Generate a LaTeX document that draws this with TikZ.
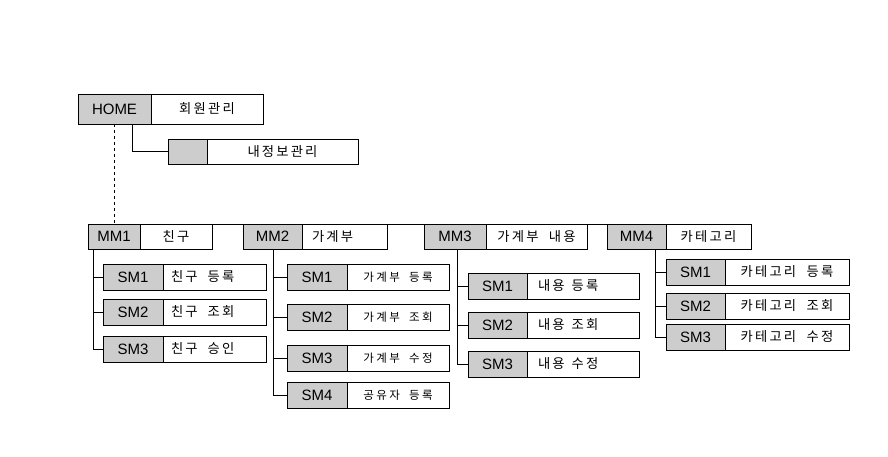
\documentclass[tikz,border=0pt]{standalone}
\usepackage{fontspec}
\setmainfont{Liberation Sans}
\newfontfamily\kr[WordSpace=3.5]{Noto Sans CJK KR}
\definecolor{cellgray}{RGB}{205,205,205}
\newcount\hgc
\hgc="AC00
\loop \XeTeXcharclass\hgc=7 \advance\hgc by 1 \ifnum\hgc<"D7A4 \repeat
\newdimen\hgk \hgk=2pt
\XeTeXinterchartoks 7 7 = {\kern\hgk}
\XeTeXinterchartokenstate=1
\newcommand\krmain{\kr\fontsize{13.3}{16}\selectfont\hgk=2.2pt\relax}
\newcommand\krsmall{\kr\fontsize{11.5}{14}\selectfont\hgk=2.5pt\relax}
\newcommand\spwide{\spaceskip=10pt\relax}
\newcommand\spmid{\spaceskip=7pt\relax}
\newcommand\spnorm{\relax}
\begin{document}
\begin{tikzpicture}[x=1pt,y=-1pt,
  cell/.style={draw=black, line width=0.8pt, inner sep=0pt, outer sep=0pt, anchor=north west},
  gcell/.style={cell, fill=cellgray, font=\fontsize{15}{17}\selectfont},
  wcell/.style={cell, fill=white, font=\krmain},
  wsmall/.style={wcell, font=\krsmall},
  lft/.style 2 args={align=left, inner xsep=#1, execute at begin node=#2},
  conn/.style={draw=black, line width=0.8pt}]
\useasboundingbox (0,0) rectangle (888,457);
% HOME
\node[gcell, minimum width=73, minimum height=30] (hg) at (78,94) {HOME};
\node[wcell, minimum width=112, minimum height=30] (hw) at (hg.north east) {회원관리};
\node[gcell, minimum width=39, minimum height=25] (pg) at (168,139) {};
\node[wcell, minimum width=151, minimum height=25] (pw) at (pg.north east) {내정보관리};
% MM
\node[gcell, minimum width=52, minimum height=25] (m1g) at (88,224) {MM1};
\node[wcell, minimum width=72, minimum height=25] (m1w) at (m1g.north east) {친구};
\node[gcell, minimum width=59, minimum height=25] (m2g) at (243,224) {MM2};
\node[wcell, minimum width=85, minimum height=25, lft={10}{\spnorm}, text width=65] (m2w) at (m2g.north east) {가계부};
\node[gcell, minimum width=62, minimum height=25] (m3g) at (424,224) {MM3};
\node[wcell, minimum width=101, minimum height=25] (m3w) at (m3g.north east) {가계부 내용};
\node[gcell, minimum width=59, minimum height=25] (m4g) at (607,224) {MM4};
\node[wcell, minimum width=85, minimum height=25] (m4w) at (m4g.north east) {카테고리};
% MM1 subs
\node[gcell, minimum width=60, minimum height=26] (a1g) at (103,264) {SM1};
\node[wcell, minimum width=103, minimum height=26, lft={8}{\spwide}, text width=87] (a1w) at (a1g.north east) {친구 등록};
\node[gcell, minimum width=60, minimum height=26] (a2g) at (103,299) {SM2};
\node[wcell, minimum width=103, minimum height=26, lft={8}{\spwide}, text width=87] (a2w) at (a2g.north east) {친구 조회};
\node[gcell, minimum width=60, minimum height=26] (a3g) at (103,336) {SM3};
\node[wcell, minimum width=103, minimum height=26, lft={8}{\spwide}, text width=87] (a3w) at (a3g.north east) {친구 승인};
% MM2 subs
\node[gcell, minimum width=60, minimum height=26] (b1g) at (287,264) {SM1};
\node[wsmall, minimum width=102, minimum height=26] (b1w) at (b1g.north east) {가계부 등록};
\node[gcell, minimum width=60, minimum height=26] (b2g) at (287,304) {SM2};
\node[wsmall, minimum width=102, minimum height=26] (b2w) at (b2g.north east) {가계부 조회};
\node[gcell, minimum width=60, minimum height=26] (b3g) at (287,345) {SM3};
\node[wsmall, minimum width=102, minimum height=26] (b3w) at (b3g.north east) {가계부 수정};
\node[gcell, minimum width=60, minimum height=26] (b4g) at (287,382) {SM4};
\node[wsmall, minimum width=102, minimum height=26] (b4w) at (b4g.north east) {공유자 등록};
% MM3 subs
\node[gcell, minimum width=59, minimum height=26] (c1g) at (468,273) {SM1};
\node[wcell, minimum width=112, minimum height=26, lft={11}{\spmid}, text width=90] (c1w) at (c1g.north east) {내용 등록};
\node[gcell, minimum width=59, minimum height=26] (c2g) at (468,312) {SM2};
\node[wcell, minimum width=112, minimum height=26, lft={11}{\spmid}, text width=90] (c2w) at (c2g.north east) {내용 조회};
\node[gcell, minimum width=59, minimum height=26] (c3g) at (468,351) {SM3};
\node[wcell, minimum width=112, minimum height=26, lft={11}{\spmid}, text width=90] (c3w) at (c3g.north east) {내용 수정};
% MM4 subs
\node[gcell, minimum width=59, minimum height=26] (d1g) at (666,259) {SM1};
\node[wcell, minimum width=124, minimum height=26] (d1w) at (d1g.north east) {카테고리 등록};
\node[gcell, minimum width=59, minimum height=26] (d2g) at (666,293) {SM2};
\node[wcell, minimum width=124, minimum height=26] (d2w) at (d2g.north east) {카테고리 조회};
\node[gcell, minimum width=59, minimum height=26] (d3g) at (666,324) {SM3};
\node[wcell, minimum width=124, minimum height=26] (d3w) at (d3g.north east) {카테고리 수정};
% connectors
\draw[conn] (hg.south) ++(18,0) coordinate (h1) |- (pg.west);
\draw[conn, dashed] (hg.south) -- (hg.south |- m1g.north);
\draw[conn] (m1g.north west) -- (m4w.north east);
\draw[conn] (m1g.south west) ++(5,0) coordinate (t1) -- (t1 |- a3g.west) -- (a3g.west);
\draw[conn] (t1 |- a1g.west) -- (a1g.west);
\draw[conn] (t1 |- a2g.west) -- (a2g.west);
\draw[conn] (m2g.south west) ++(30,0) coordinate (t2) -- (t2 |- b4g.west) -- (b4g.west);
\draw[conn] (t2 |- b1g.west) -- (b1g.west);
\draw[conn] (t2 |- b2g.west) -- (b2g.west);
\draw[conn] (t2 |- b3g.west) -- (b3g.west);
\draw[conn] (m3g.south west) ++(33,0) coordinate (t3) -- (t3 |- c3g.west) -- (c3g.west);
\draw[conn] (t3 |- c1g.west) -- (c1g.west);
\draw[conn] (t3 |- c2g.west) -- (c2g.west);
\draw[conn] (m4g.south west) ++(48,0) coordinate (t4) -- (t4 |- d3g.west) -- (d3g.west);
\draw[conn] (t4 |- d1g.west) -- (d1g.west);
\draw[conn] (t4 |- d2g.west) -- (d2g.west);
\end{tikzpicture}
\end{document}
